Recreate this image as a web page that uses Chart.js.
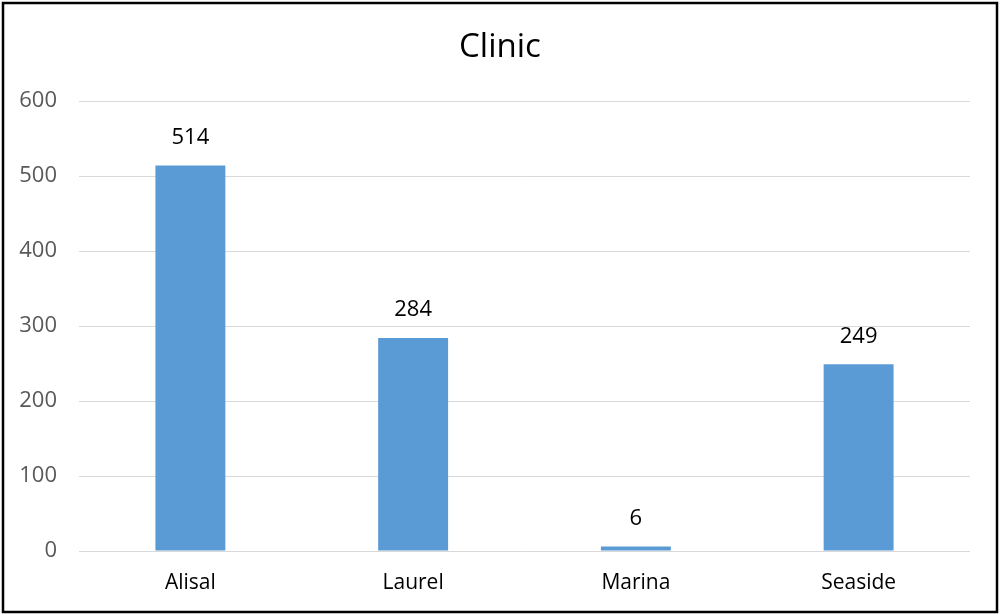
<!DOCTYPE html>
<html>
<head>
<meta charset="utf-8">
<script src="https://cdn.jsdelivr.net/npm/chart.js@4"></script>
<style>
  html, body { margin: 0; padding: 0; background: #fff; }
  #wrap { width: 1000px; height: 615px; position: relative; }
</style>
</head>
<body>
<div id="wrap"><canvas id="clinicChart"></canvas></div>
<script>
const clinics = ['Alisal', 'Laurel', 'Marina', 'Seaside'];
const counts = [514, 284, 6, 249];
const yTicks = [0, 100, 200, 300, 400, 500, 600];
const chartTitle = 'Clinic';

const FONT = '"Open Sans", "DejaVu Sans", sans-serif';

// title centred on the whole canvas, value above each bar, black frame
const decorations = {
  id: 'decorations',
  afterDatasetsDraw(chart) {
    const ctx = chart.ctx;
    const meta = chart.getDatasetMeta(0);
    ctx.save();
    ctx.font = '22px ' + FONT;
    ctx.fillStyle = '#000';
    ctx.textAlign = 'center';
    ctx.textBaseline = 'middle';
    meta.data.forEach((bar, i) => {
      ctx.fillText(String(counts[i]), bar.x, bar.y - 28);
    });
    ctx.restore();
  },
  afterDraw(chart) {
    const ctx = chart.ctx;
    ctx.save();
    ctx.font = '33px ' + FONT;
    ctx.fillStyle = '#000';
    ctx.textAlign = 'center';
    ctx.textBaseline = 'middle';
    ctx.fillText(chartTitle, chart.width / 2, 48);
    ctx.strokeStyle = '#000';
    ctx.lineWidth = 2.5;
    ctx.strokeRect(3, 3, 994, 609);
    ctx.restore();
  }
};

new Chart(document.getElementById('clinicChart'), {
  type: 'bar',
  data: {
    labels: clinics,
    datasets: [{
      label: chartTitle,
      data: counts,
      backgroundColor: '#5b9bd5',
      categoryPercentage: 1,
      barPercentage: 0.314
    }]
  },
  options: {
    responsive: true,
    maintainAspectRatio: false,
    animation: false,
    layout: { padding: { left: 0, right: 30, top: 0, bottom: 0 } },
    plugins: {
      legend: { display: false },
      tooltip: { enabled: false },
      // keeps the space above the plot; the text itself is drawn by the plugin
      title: {
        display: true,
        text: chartTitle,
        color: 'rgba(0,0,0,0)',
        font: { family: FONT, size: 31, weight: 'normal', lineHeight: 1.2 },
        padding: { top: 28, bottom: 35.8 }
      }
    },
    scales: {
      x: {
        grid: { display: false },
        border: { display: false },
        ticks: { color: '#000', font: { family: FONT, size: 21 }, padding: 11 },
        afterFit(scale) { scale.height = 64; }
      },
      y: {
        min: 0,
        max: 600,
        afterBuildTicks(scale) { scale.ticks = yTicks.map(v => ({ value: v })); },
        grid: { color: '#d9d9d9', lineWidth: 1, drawTicks: false },
        border: { display: false },
        ticks: { color: '#595959', font: { family: FONT, size: 22 }, padding: 22 },
        afterFit(scale) { scale.width = 79; }
      }
    }
  },
  plugins: [decorations]
});
</script>
</body>
</html>
